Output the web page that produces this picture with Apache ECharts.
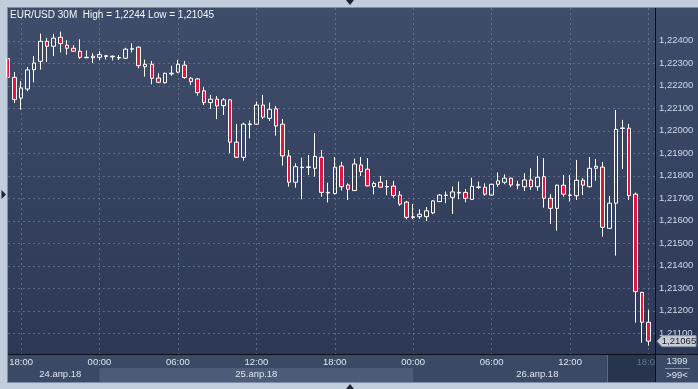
<!DOCTYPE html>
<html><head><meta charset="utf-8"><title>EUR/USD 30M</title>
<script src="https://cdn.jsdelivr.net/npm/echarts@6/dist/echarts.min.js"></script>
<style>html,body{margin:0;padding:0;background:#c2cddc;overflow:hidden}#chart{width:698px;height:389px}</style>
</head><body><div id="chart"></div><script>
const symbolName = 'EUR/USD 30M';
const startTime = '2018-04-24T17:00:00Z';
const opens = [1.22320,1.22237,1.22145,1.22185,1.22271,1.22308,1.22397,1.22375,1.22415,1.22380,
1.22366,1.22353,1.22324,1.22324,1.22326,1.22330,1.22328,1.22323,1.22322,1.22362,
1.22371,1.22284,1.22295,1.22234,1.22213,1.22252,1.22260,1.22291,1.22233,1.22230,
1.22177,1.22125,1.22140,1.22111,1.22137,1.21949,1.21882,1.22027,1.22029,1.22114,
1.22055,1.22097,1.22029,1.21888,1.21771,1.21836,1.21837,1.21833,1.21882,1.21723,
1.21721,1.21843,1.21759,1.21734,1.21848,1.21829,1.21752,1.21771,1.21750,1.21754,
1.21714,1.21683,1.21615,1.21618,1.21618,1.21635,1.21685,1.21712,1.21704,1.21723,
1.21726,1.21695,1.21748,1.21749,1.21714,1.21762,1.21771,1.21789,1.21758,1.21751,
1.21781,1.21751,1.21796,1.21700,1.21655,1.21758,1.21712,1.21711,1.21780,1.21751,
1.21833,1.21838,1.21566,1.21678,1.22010,1.22011,1.21718,1.21282,1.21149];
const highs = [1.22325,1.22261,1.22220,1.22283,1.22332,1.22431,1.22412,1.22430,1.22440,1.22402,
1.22380,1.22406,1.22356,1.22344,1.22353,1.22335,1.22334,1.22336,1.22368,1.22388,
1.22374,1.22316,1.22310,1.22255,1.22258,1.22288,1.22314,1.22310,1.22239,1.22233,
1.22193,1.22159,1.22154,1.22145,1.22141,1.22030,1.22036,1.22045,1.22129,1.22159,
1.22125,1.22110,1.22052,1.21914,1.21855,1.21880,1.21892,1.21989,1.21914,1.21769,
1.21883,1.21862,1.21766,1.21876,1.21883,1.21878,1.21774,1.21799,1.21781,1.21777,
1.21732,1.21688,1.21674,1.21651,1.21661,1.21692,1.21719,1.21730,1.21752,1.21774,
1.21741,1.21791,1.21774,1.21766,1.21763,1.21815,1.21806,1.21792,1.21777,1.21811,
1.21833,1.21888,1.21878,1.21718,1.21760,1.21803,1.21803,1.21870,1.21789,1.21883,
1.21874,1.21861,1.21710,1.22092,1.22048,1.22030,1.21725,1.21283,1.21204];
const lows = [1.22232,1.22123,1.22093,1.22175,1.22215,1.22271,1.22305,1.22331,1.22348,1.22338,
1.22350,1.22319,1.22322,1.22300,1.22313,1.22316,1.22312,1.22314,1.22319,1.22348,
1.22277,1.22240,1.22206,1.22211,1.22209,1.22244,1.22255,1.22231,1.22203,1.22156,
1.22114,1.22097,1.22051,1.22070,1.21900,1.21879,1.21867,1.21966,1.22027,1.22052,
1.22043,1.21978,1.21845,1.21751,1.21747,1.21695,1.21803,1.21796,1.21707,1.21681,
1.21717,1.21734,1.21692,1.21732,1.21799,1.21752,1.21717,1.21748,1.21713,1.21702,
1.21666,1.21606,1.21607,1.21608,1.21599,1.21629,1.21683,1.21678,1.21630,1.21695,
1.21682,1.21694,1.21740,1.21711,1.21711,1.21751,1.21762,1.21749,1.21740,1.21732,
1.21737,1.21734,1.21658,1.21586,1.21556,1.21707,1.21685,1.21692,1.21714,1.21748,
1.21777,1.21529,1.21564,1.21445,1.21830,1.21692,1.21147,1.21058,1.21045];
const closes = [1.22237,1.22138,1.22190,1.22270,1.22301,1.22397,1.22375,1.22411,1.22387,1.22366,
1.22353,1.22326,1.22326,1.22331,1.22338,1.22333,1.22331,1.22325,1.22362,1.22364,
1.22289,1.22295,1.22233,1.22215,1.22255,1.22255,1.22295,1.22236,1.22218,1.22169,
1.22125,1.22140,1.22110,1.22137,1.21949,1.21882,1.22029,1.22030,1.22114,1.22060,
1.22095,1.22021,1.21888,1.21771,1.21840,1.21838,1.21839,1.21886,1.21726,1.21726,
1.21838,1.21751,1.21740,1.21852,1.21818,1.21755,1.21766,1.21749,1.21752,1.21712,
1.21674,1.21615,1.21618,1.21629,1.21644,1.21688,1.21714,1.21714,1.21728,1.21726,
1.21700,1.21753,1.21750,1.21718,1.21762,1.21777,1.21789,1.21759,1.21760,1.21781,
1.21751,1.21793,1.21700,1.21655,1.21758,1.21718,1.21714,1.21780,1.21758,1.21833,
1.21842,1.21571,1.21678,1.22006,1.22012,1.21711,1.21285,1.21149,1.21065];
const yTicks = [1.211,1.212,1.213,1.214,1.215,1.216,1.217,1.218,1.219,1.220,1.221,1.222,1.223,1.224];
const timeTicks = ['00:00','06:00','12:00','18:00'];
const dateLabels = ['24.апр.18','25.апр.18','26.апр.18'];
const dateIdx = [8,38,81];
const barsTotal = '1399';
const yMin = 1.21008, yMax = 1.22545;

const F = 'Liberation Sans, Arial, sans-serif';
const GRID = 'rgba(128,143,176,0.55)';
const categories = [];
const t0 = Date.parse(startTime);
for (let i = 0; i <= opens.length; i++) {
  categories.push(new Date(t0 + i * 1800000).toISOString().slice(0, 16).replace('T', ' '));
}
const ohlc = opens.map((o, i) => [o, closes[i], lows[i], highs[i]]);
const fmtPrice = v => String(v).replace('.', ',');
const isTimeTick = (i, v) => timeTicks.indexOf(String(v).slice(11)) >= 0;

const chart = echarts.init(document.getElementById('chart'), null, {renderer: 'canvas'});
const option = {
  animation: false,
  backgroundColor: '#c2cddc',
  grid: {left: 8, right: 43, top: 8, bottom: 35, containLabel: false},
  xAxis: [{
    type: 'category', data: categories, boundaryGap: false,
    axisLine: {show: true, lineStyle: {color: '#0b0f17', width: 1}},
    axisTick: {show: false},
    axisLabel: {interval: isTimeTick, formatter: v => v.slice(11), fontFamily: F, fontSize: 9.5, margin: 3,
      color: (v, i) => (String(v) >= categories[92] ? '#66718b' : '#dde4f0')},
    splitLine: {show: true, interval: isTimeTick, lineStyle: {color: GRID, type: [2, 3], width: 1}}
  }, {
    type: 'category', data: categories, boundaryGap: false, position: 'bottom', offset: 13,
    axisLine: {show: false}, axisTick: {show: false}, splitLine: {show: false},
    axisLabel: {interval: i => dateIdx.indexOf(i) >= 0, fontFamily: F, fontSize: 9.5, margin: 2, color: '#dde4f0',
      formatter: v => dateLabels.find(d => d.slice(0, 2) === v.slice(8, 10)) || ''}
  }],
  yAxis: {
    type: 'value', position: 'right', min: yMin, max: yMax, minInterval: 0.001, maxInterval: 0.001,
    axisLine: {show: true, lineStyle: {color: '#0b0f17', width: 1}},
    axisTick: {show: false}, splitLine: {show: false},
    axisLabel: {showMinLabel: false, showMaxLabel: false, fontFamily: F, fontSize: 9.5, margin: 4, color: '#cdd8ea',
      formatter: v => (yTicks.some(t => Math.abs(t - v) < 1e-7) ? v.toFixed(5).replace('.', ',') : '')}
  },
  series: [{
    type: 'candlestick', data: ohlc, barWidth: 4, z: 3,
    itemStyle: {color: 'rgba(0,0,0,0)', color0: '#e3173e', borderColor: '#ffffff', borderColor0: '#ffffff', borderWidth: 1},
    emphasis: {disabled: true}
  }]
};
chart.setOption(option);

const px = i => chart.convertToPixel({xAxisIndex: 0}, i);
const py = v => chart.convertToPixel({yAxisIndex: 0}, v);
const lastClose = closes[closes.length - 1];
const yp = py(lastClose);
const hi = Math.max.apply(null, highs), lo = Math.min.apply(null, lows);
const grad = {type: 'linear', x: 0, y: 0, x2: 0, y2: 1, colorStops: [{offset: 0, color: '#404d6a'}, {offset: 1, color: '#2c3856'}]};
const dayStart = categories.findIndex(c => c.slice(11) === '00:00');
const dayEnd = categories.findIndex((c, i) => i > dayStart && c.slice(11) === '00:00');
const gridLines = yTicks.map(t => {
  const y = Math.round(py(t)) + 0.5;
  return {type: 'line', z: -15, shape: {x1: 8, y1: y, x2: 655, y2: y}, style: {stroke: GRID, lineWidth: 1, lineDash: [2, 3]}};
});
chart.setOption({graphic: [
  {type: 'rect', z: -20, shape: {x: 8, y: 8, width: 690, height: 346}, style: {fill: grad}},
  {type: 'rect', z: -20, shape: {x: 8, y: 354, width: 690, height: 28}, style: {fill: '#3c4965'}},
  {type: 'rect', z: -19, shape: {x: px(dayStart), y: 368, width: px(dayEnd) - px(dayStart), height: 14}, style: {fill: '#4e5b78'}},
  {type: 'rect', z: -18, shape: {x: 607, y: 355, width: 48, height: 27}, style: {fill: '#28334c'}},
  {type: 'line', z: -17, shape: {x1: 607.5, y1: 355, x2: 607.5, y2: 382}, style: {stroke: '#5e6882', lineWidth: 1}}
].concat(gridLines).concat([
  {type: 'line', z: 20, shape: {x1: 655, y1: 354.5, x2: 698, y2: 354.5}, style: {stroke: '#0b0f17', lineWidth: 1}},
  {type: 'rect', z: 20, shape: {x: 656, y: 355, width: 42, height: 27}, style: {fill: '#3c4965'}},
  {type: 'line', z: 21, shape: {x1: 655.5, y1: 354, x2: 655.5, y2: 382}, style: {stroke: '#0b0f17', lineWidth: 1}},
  {type: 'line', z: 21, shape: {x1: 665, y1: 368.5, x2: 690, y2: 368.5}, style: {stroke: '#8390a8', lineWidth: 1}},
  {type: 'text', z: 21, x: 677, y: 361.5, style: {text: barsTotal, fill: '#dde4f0', font: '9.5px ' + F, align: 'center', verticalAlign: 'middle'}},
  {type: 'text', z: 21, x: 677, y: 375, style: {text: '>' + opens.length + '<', fill: '#dde4f0', font: '9.5px ' + F, align: 'center', verticalAlign: 'middle'}},
  {type: 'line', z: 21, shape: {x1: 7, y1: 7.5, x2: 698, y2: 7.5}, style: {stroke: '#7f8ea6', lineWidth: 1}},
  {type: 'line', z: 21, shape: {x1: 7.5, y1: 7, x2: 7.5, y2: 383}, style: {stroke: '#7f8ea6', lineWidth: 1}},
  {type: 'line', z: 21, shape: {x1: 7, y1: 382.5, x2: 698, y2: 382.5}, style: {stroke: '#7f8ea6', lineWidth: 1}},
  {type: 'polygon', z: 21, shape: {points: [[346, 0], [354, 0], [350, 5]]}, style: {fill: '#1c2333'}},
  {type: 'polygon', z: 21, shape: {points: [[346, 389], [354, 389], [350, 384]]}, style: {fill: '#1c2333'}},
  {type: 'polygon', z: 21, shape: {points: [[1.5, 190], [1.5, 199], [6, 194.5]]}, style: {fill: '#1c2333'}},
  {type: 'text', z: 21, x: 10, y: 15, style: {text: symbolName + '  High = ' + fmtPrice(hi) + ' Low = ' + fmtPrice(lo), fill: '#f2f5fa', font: '10px ' + F, verticalAlign: 'middle'}},
  {type: 'polygon', z: 22, shape: {points: [[657, yp], [662, yp - 5.5], [696, yp - 5.5], [696, yp + 5.5], [662, yp + 5.5]]}, style: {fill: '#c8ccd4', stroke: '#8e95a2', lineWidth: 1}},
  {type: 'text', z: 23, x: 679, y: yp + 0.5, style: {text: fmtPrice(lastClose), fill: '#1b2030', font: '9.5px ' + F, align: 'center', verticalAlign: 'middle'}}
])});
</script></body></html>
